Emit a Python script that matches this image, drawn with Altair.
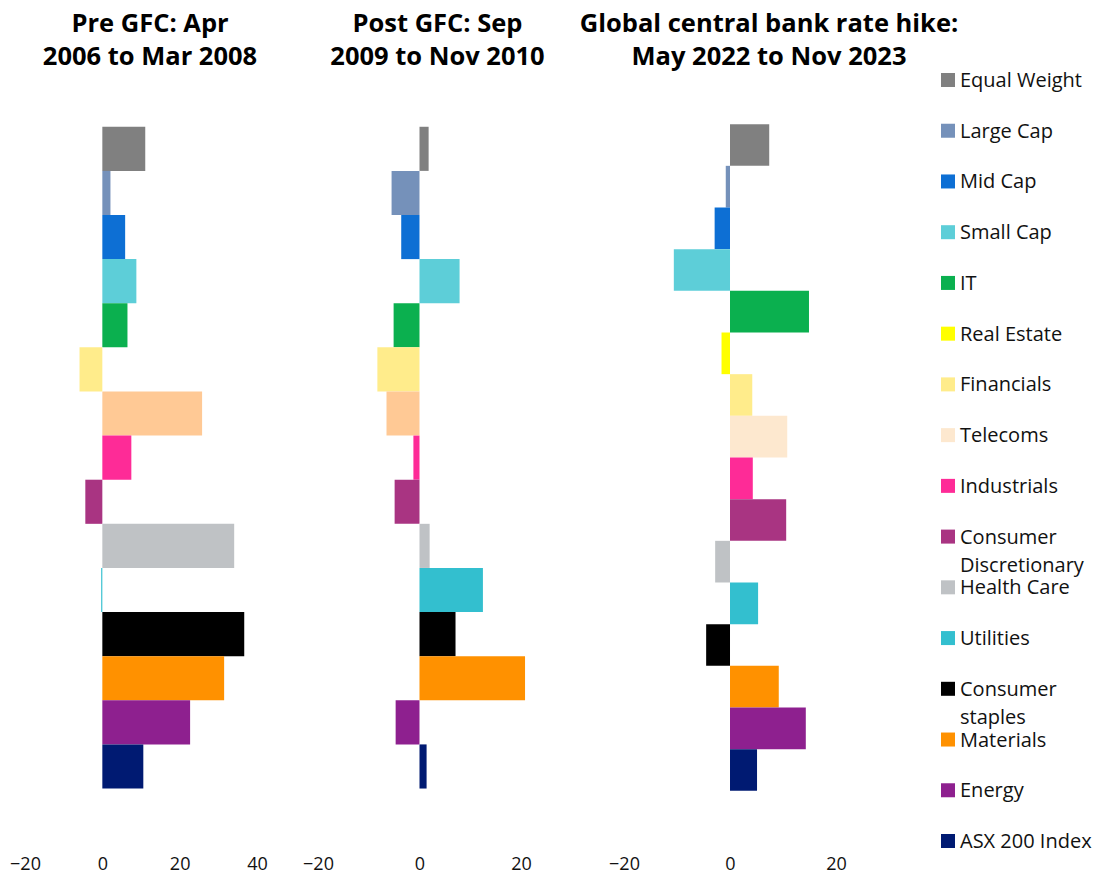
import altair as alt
import pandas as pd

# Sector / size segments, top to bottom
categories = [
    "Equal Weight", "Large Cap", "Mid Cap", "Small Cap", "IT", "Real Estate",
    "Financials", "Telecoms", "Industrials", "Consumer Discretionary",
    "Health Care", "Utilities", "Consumer staples", "Materials", "Energy",
    "ASX 200 Index",
]

# Returns (%) over each period; None = no bar
pre_gfc = [11.1, 2.1, 5.9, 8.8, 6.5, None, -5.9, 25.8, 7.5, -4.4,
           34.1, -0.3, 36.7, 31.5, 22.7, 10.6]
post_gfc = [1.8, -5.5, -3.6, 7.9, -5.1, None, -8.3, -6.5, -1.2, -4.9,
            2.0, 12.5, 7.1, 20.8, -4.7, 1.4]
rate_hike = [7.4, -0.8, -2.9, -10.6, 14.9, -1.6, 4.2, 10.8, 4.3, 10.6,
             -2.8, 5.3, -4.5, 9.2, 14.3, 5.1]

legend_labels = [
    "Equal Weight", "Large Cap", "Mid Cap", "Small Cap", "IT", "Real Estate",
    "Financials", "Telecoms", "Industrials", "Consumer\nDiscretionary",
    "Health Care", "Utilities", "Consumer\nstaples", "Materials", "Energy",
    "ASX 200 Index",
]

palette = {
    "Equal Weight": "#808080",
    "Large Cap": "#7591BA",
    "Mid Cap": "#0D6FD4",
    "Small Cap": "#5DCED8",
    "IT": "#0BB04F",
    "Real Estate": "#FFFF00",
    "Financials": "#FFEC8B",
    "Telecoms": "#FDE8CF",
    "Industrials": "#FE2B97",
    "Consumer Discretionary": "#A93482",
    "Health Care": "#BFC2C5",
    "Utilities": "#33BFCF",
    "Consumer staples": "#000000",
    "Materials": "#FF9100",
    "Energy": "#8E208F",
    "ASX 200 Index": "#001A72",
}
telecoms_early = "#FFC995"

FONT = "Open Sans"
PLOT_H = 750


def panel(values, title_lines, domain, ticks, width, title_dx, telecoms_color):
    df = pd.DataFrame({"category": categories, "value": values})
    df["color"] = [telecoms_color if c == "Telecoms" else palette[c] for c in categories]
    df = df.dropna(subset=["value"])
    return alt.Chart(df).mark_bar().encode(
        x=alt.X(
            "value:Q",
            scale=alt.Scale(domain=domain, nice=False, zero=True),
            axis=alt.Axis(
                values=ticks, grid=False, domain=False, ticks=False,
                labelFlush=False, labelPadding=25, labelFontSize=18,
                labelFont=FONT, labelColor="#111111", title=None,
            ),
        ),
        y=alt.Y(
            "category:N", sort=categories, axis=None,
            scale=alt.Scale(paddingInner=0, paddingOuter=1, align=0.53),
        ),
        color=alt.Color("color:N", scale=None),
    ).properties(
        width=width,
        height=PLOT_H,
        title=alt.TitleParams(
            text=title_lines, fontSize=25.5, font=FONT, fontWeight="bold",
            lineHeight=33, anchor="middle", frame="group", offset=10,
            dx=title_dx, color="#000000",
        ),
    )


# the right-hand panels keep some blank room past their last tick
p1 = panel(pre_gfc, ["Pre GFC: Apr", "2006 to Mar 2008"],
           [-20, 40], [-20, 0, 20, 40], 232, 9, telecoms_early)
p2 = panel(post_gfc, ["Post GFC: Sep", "2009 to Nov 2010"],
           [-20, 28.28], [-20, 0, 20], 245, -3, telecoms_early)
p3 = panel(rate_hike, ["Global central bank rate hike:", "May 2022 to Nov 2023"],
           [-20, 28.3], [-20, 0, 20], 256, 17, palette["Telecoms"])

legend_df = pd.DataFrame({
    "category": categories,
    "label": legend_labels,
    "color": [palette[c] for c in categories],
})
legend_base = alt.Chart(legend_df).encode(
    y=alt.Y("category:N", sort=categories, axis=None,
            scale=alt.Scale(type="point", padding=0)),
)
legend_marks = legend_base.mark_square(size=196, opacity=1).encode(
    x=alt.value(7), color=alt.Color("color:N", scale=None),
)
legend_text = legend_base.mark_text(
    align="left", baseline="alphabetic", dy=7, fontSize=20, font=FONT,
    lineBreak="\n", lineHeight=28, color="#111111",
).encode(x=alt.value(19), text="label:N")
legend = (legend_marks + legend_text).properties(width=160, height=761)

chart = alt.hconcat(p1, p2, p3, legend, spacing=61, bounds="flush").properties(
    padding={"left": 9, "top": 11, "right": 0, "bottom": 0},
    background="white",
).configure_view(strokeWidth=0)

chart.save("out.html", embed_options={"renderer": "svg", "actions": False})
